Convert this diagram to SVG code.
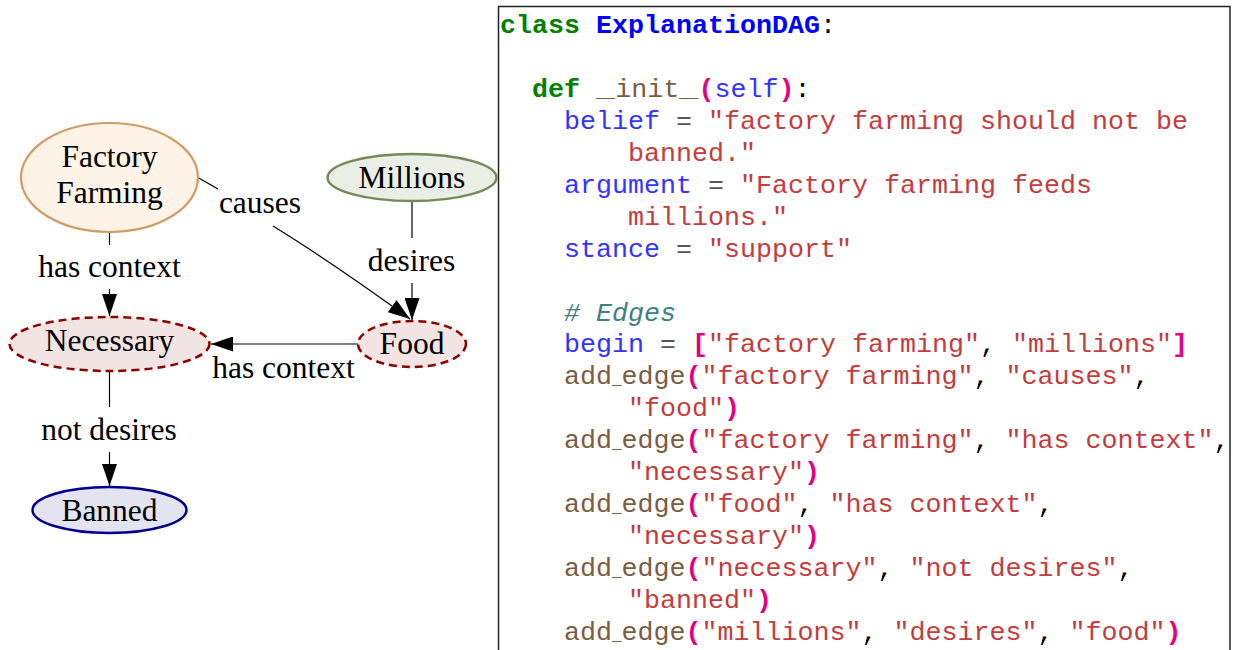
<svg xmlns="http://www.w3.org/2000/svg" width="1233" height="650" viewBox="0 0 1233 650">
<defs>
<marker id="arr" markerUnits="userSpaceOnUse" markerWidth="22" markerHeight="15" viewBox="0 0 22 15" refX="22" refY="7.5" orient="auto"><path d="M0,0 L22,7.5 L0,15 z" fill="#000"/></marker>
<style>
.node text,.lbl{font-family:"Liberation Serif","Times New Roman",serif;font-size:31.5px;fill:#000;text-anchor:middle}
.edge{fill:none;stroke:#000;stroke-width:1.2}
.code{font-family:"Liberation Mono","Courier New",monospace;font-size:26.67px;white-space:pre}
.kw{fill:#008000;font-weight:bold}
.cn{fill:#0000ff;font-weight:bold}
.id{fill:#3333ff}
.st{fill:#c43c3c}
.fn{fill:#7a5c42}
.us{font-size:16px}
.br{fill:#e6007e;font-weight:bold}
.op{fill:#555}
.pn{fill:#000}
.cm{fill:#408080;font-style:italic}
.dash{stroke:#8b0000;stroke-width:2.5;stroke-dasharray:8 5;fill:#f3e4e4}
</style>
</defs>
<rect x="0" y="0" width="1233" height="650" fill="#fff"/>
<rect x="498.5" y="6.5" width="731.5" height="700" fill="#fff" stroke="#222" stroke-width="1.5"/>

<g id="connectors">
<path class="edge" d="M109.5,232 V245"/>
<path class="edge" d="M109.5,289 V316" marker-end="url(#arr)"/>
<text class="lbl" x="109.5" y="277">has context</text>
<path class="edge" d="M197,177 L218,189"/>
<path class="edge" d="M273,226 C320,255 370,290 410,319" marker-end="url(#arr)"/>
<text class="lbl" x="260" y="213">causes</text>
<path class="edge" d="M412,201 V238"/>
<path class="edge" d="M412,283 V320" marker-end="url(#arr)"/>
<text class="lbl" x="411.5" y="271">desires</text>
<path class="edge" d="M358,344 H211" marker-end="url(#arr)"/>
<text class="lbl" x="283.5" y="378">has context</text>
<path class="edge" d="M109.5,371 V407"/>
<path class="edge" d="M109.5,452 V486" marker-end="url(#arr)"/>
<text class="lbl" x="109" y="440">not desires</text>
</g>

<g id="factory-farming" class="node">
<ellipse cx="109.5" cy="177.5" rx="88.5" ry="54.5" fill="#fef3e7" stroke="#d19b63" stroke-width="2.2"/>
<text x="109.5" y="167">Factory</text>
<text x="109.5" y="203">Farming</text>
</g>
<g id="millions" class="node">
<ellipse cx="412" cy="177.5" rx="84.5" ry="23.5" fill="#ebeee5" stroke="#76895a" stroke-width="2.5"/>
<text x="412" y="188">Millions</text>
</g>
<g id="necessary" class="node">
<ellipse class="dash" cx="109.5" cy="344" rx="100" ry="27"/>
<text x="109.5" y="351">Necessary</text>
</g>
<g id="food" class="node">
<ellipse class="dash" cx="412" cy="344" rx="54" ry="23"/>
<text x="412" y="354">Food</text>
</g>
<g id="banned" class="node">
<ellipse cx="109.5" cy="510" rx="77" ry="23" fill="#e4e4f1" stroke="#00008b" stroke-width="2.5"/>
<text x="109.5" y="521">Banned</text>
</g>

<g id="code" class="code">
<text x="500" y="33"><tspan class="kw">class</tspan><tspan> </tspan><tspan class="cn">ExplanationDAG</tspan><tspan class="pn">:</tspan></text>
<text x="532" y="97"><tspan class="kw">def</tspan><tspan> </tspan><tspan class="fn"><tspan class="us">__</tspan>init<tspan class="us">__</tspan></tspan><tspan class="br">(</tspan><tspan class="id">self</tspan><tspan class="br">)</tspan><tspan class="pn">:</tspan></text>
<text x="564" y="129"><tspan class="id">belief</tspan><tspan class="op"> = </tspan><tspan class="st">"factory farming should not be</tspan></text>
<text x="628" y="161"><tspan class="st">banned."</tspan></text>
<text x="564" y="193"><tspan class="id">argument</tspan><tspan class="op"> = </tspan><tspan class="st">"Factory farming feeds</tspan></text>
<text x="628" y="225"><tspan class="st">millions."</tspan></text>
<text x="564" y="257"><tspan class="id">stance</tspan><tspan class="op"> = </tspan><tspan class="st">"support"</tspan></text>
<text x="564" y="321" class="cm"># Edges</text>
<text x="564" y="352"><tspan class="id">begin</tspan><tspan class="op"> = </tspan><tspan class="br">[</tspan><tspan class="st">"factory farming"</tspan><tspan class="pn">, </tspan><tspan class="st">"millions"</tspan><tspan class="br">]</tspan></text>
<text x="564" y="384"><tspan class="fn">add<tspan class="us">_</tspan>edge</tspan><tspan class="br">(</tspan><tspan class="st">"factory farming"</tspan><tspan class="pn">, </tspan><tspan class="st">"causes"</tspan><tspan class="pn">,</tspan></text>
<text x="628" y="416"><tspan class="st">"food"</tspan><tspan class="br">)</tspan></text>
<text x="564" y="448"><tspan class="fn">add<tspan class="us">_</tspan>edge</tspan><tspan class="br">(</tspan><tspan class="st">"factory farming"</tspan><tspan class="pn">, </tspan><tspan class="st">"has context"</tspan><tspan class="pn">,</tspan></text>
<text x="628" y="480"><tspan class="st">"necessary"</tspan><tspan class="br">)</tspan></text>
<text x="564" y="512"><tspan class="fn">add<tspan class="us">_</tspan>edge</tspan><tspan class="br">(</tspan><tspan class="st">"food"</tspan><tspan class="pn">, </tspan><tspan class="st">"has context"</tspan><tspan class="pn">,</tspan></text>
<text x="628" y="544"><tspan class="st">"necessary"</tspan><tspan class="br">)</tspan></text>
<text x="564" y="576"><tspan class="fn">add<tspan class="us">_</tspan>edge</tspan><tspan class="br">(</tspan><tspan class="st">"necessary"</tspan><tspan class="pn">, </tspan><tspan class="st">"not desires"</tspan><tspan class="pn">,</tspan></text>
<text x="628" y="608"><tspan class="st">"banned"</tspan><tspan class="br">)</tspan></text>
<text x="564" y="640"><tspan class="fn">add<tspan class="us">_</tspan>edge</tspan><tspan class="br">(</tspan><tspan class="st">"millions"</tspan><tspan class="pn">, </tspan><tspan class="st">"desires"</tspan><tspan class="pn">, </tspan><tspan class="st">"food"</tspan><tspan class="br">)</tspan></text>
</g>
</svg>
